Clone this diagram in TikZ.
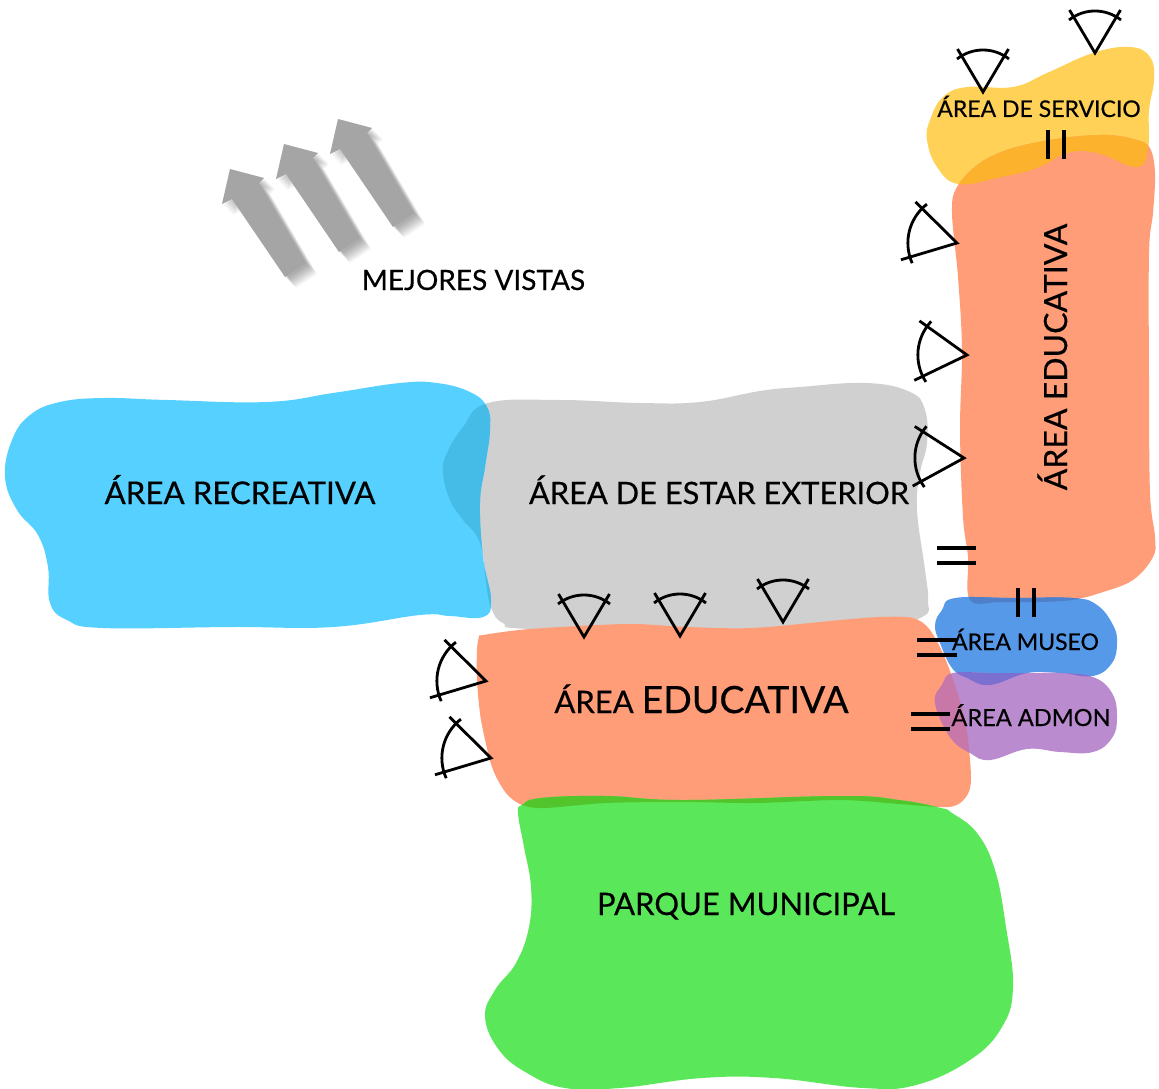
\documentclass[tikz,border=0pt]{standalone}
\usepackage{fontspec}
\setmainfont{Lato}[FakeBold=0.4]
\usepackage{tikz}

% Region colours
\definecolor{recreacolor}{HTML}{55D0FF}
\definecolor{estarcolor}{HTML}{D0D0D0}
\definecolor{educacolor}{HTML}{FF9D78}
\definecolor{parquecolor}{HTML}{5AE85A}
\definecolor{serviciocolor}{HTML}{FFD257}
\definecolor{museocolor}{HTML}{5599E8}
\definecolor{admoncolor}{HTML}{BB8BD0}

% Outlines of the regions
\newcommand{\recreapath}{plot[smooth cycle,tension=.7] coordinates {(60,402)(105,398)(167,400)(267,402)(333,393)(400,383)(437,383)(470,392)(487,407)(490,430)(485,467)(480,503)(483,557)(491,600)(483,617)(450,616)(420,615)(333,627)(233,627)(103,628)(67,620)(50,603)(48,567)(38,535)(17,510)(5,477)(12,440)(30,415)}}
\newcommand{\estarpath}{plot[smooth cycle,tension=.7] coordinates {(488,403)(560,400)(640,403)(700,402)(760,391)(800,387)(867,383)(910,392)(925,410)(927,443)(920,473)(917,510)(925,570)(928,600)(922,617)(870,628)(700,632)(530,629)(503,623)(492,610)(487,590)(480,543)(463,520)(450,500)(443,473)(447,453)(463,427)}}
\newcommand{\educapath}{plot[smooth cycle,tension=.5] coordinates {(479,637)(483,635)(530,629)(627,624)(687,627)(753,628)(840,620)(880,617)(913,618)(930,630)(947,663)(965,720)(971,777)(966,797)(949,807)(899,804)(841,800)(756,803)(684,802)(606,803)(545,808)(522,805)(506,793)(492,767)(481,720)(477,680)(477,650)}}
\newcommand{\parquepath}{plot[smooth cycle,tension=.7] coordinates {(522,805)(541,798)(606,796)(684,800)(841,796)(899,800)(941,808)(952,813)(977,833)(995,870)(1006,927)(1013,987)(1002,1027)(970,1060)(916,1085)(863,1088)(774,1078)(702,1078)(620,1088)(565,1088)(527,1073)(499,1050)(485,1017)(495,990)(516,963)(529,927)(531,887)(524,847)(518,813)}}
\newcommand{\serviciopath}{plot[smooth cycle,tension=.7] coordinates {(927,140)(930,120)(943,97)(967,87)(1013,87)(1047,73)(1093,53)(1130,47)(1150,57)(1154,80)(1149,110)(1148,148)(1137,167)(1097,153)(1067,153)(1037,168)(997,178)(958,184)(937,167)}}
\newcommand{\torrepath}{plot[smooth cycle,tension=.6] coordinates {(957,187)(980,163)(1013,148)(1063,138)(1107,135)(1137,140)(1150,148)(1155,173)(1153,213)(1149,253)(1149,380)(1150,493)(1155,537)(1153,557)(1133,580)(1100,593)(1072,600)(1040,602)(1000,602)(970,600)(968,557)(963,517)(960,430)(962,350)(958,277)(952,213)}}
\newcommand{\museopath}{plot[smooth cycle,tension=.7] coordinates {(955,598)(1013,598)(1073,598)(1097,605)(1113,625)(1117,643)(1112,663)(1093,676)(1060,673)(1027,673)(990,685)(967,678)(952,668)(940,643)(935,625)(942,610)}}
\newcommand{\admonpath}{plot[smooth cycle,tension=.7] coordinates {(953,673)(990,673)(1027,673)(1060,673)(1093,677)(1112,693)(1117,717)(1112,738)(1093,752)(1060,752)(1027,749)(990,760)(970,753)(950,737)(935,703)(942,685)}}

\tikzset{
  viewmark/.pic={
    \draw[view line] (-25.5,-43)--(0,0)--(25.5,-43);
    \draw[view line] (-26,-33) .. controls (-10.6,-45) and (10.6,-45) .. (26,-33);
  }
}

\begin{document}
\begin{tikzpicture}[x=1pt,y=-1pt]
% Styles for the marks and the labels
\tikzstyle{view line}=[draw=black,line width=2.8pt]
\tikzstyle{pair bar}=[draw=black,line width=4.5pt]
\tikzstyle{area label}=[anchor=base,inner sep=0,text=black]
\useasboundingbox (0,0) rectangle (1159,1089);
\fill[white] (0,0) rectangle (1159,1089);

% The regions, lowest first
\fill[estarcolor] \estarpath;
\fill[recreacolor] \recreapath;
\fill[serviciocolor] \serviciopath;
\fill[educacolor] \torrepath;
\fill[educacolor] \educapath;
\fill[parquecolor] \parquepath;
\fill[museocolor] \museopath;
\fill[admoncolor] \admonpath;

% Where two regions overlap
\begin{scope}
\clip \recreapath;
\fill[color={rgb,255:red,69;green,187;blue,232}] \estarpath;
\end{scope}
\begin{scope}
\clip \serviciopath;
\fill[color={rgb,255:red,253;green,178;blue,45}] \torrepath;
\end{scope}
\begin{scope}
\clip \parquepath;
\fill[color={rgb,255:red,82;green,197;blue,45}] \educapath;
\end{scope}
\begin{scope}
\clip \museopath;
\fill[color={rgb,255:red,79;green,127;blue,200}] \torrepath;
\fill[color={rgb,255:red,123;green,112;blue,208}] \admonpath;
\end{scope}
\begin{scope}
\clip \admonpath;
\fill[color={rgb,255:red,200;green,120;blue,168}] \educapath;
\end{scope}

% Best views arrows with their soft shadow
\foreach \dx/\dy in {0/0,54/-25,108/-50}{
  \foreach \off in {2,3,...,11}
    \fill[black,opacity=.035,shift={(\dx+\off,\dy+\off)}] (230,169)--(264,178)--(259,183)--(306,263)--(285,277)--(232,199)--(222,204)--cycle;
  \fill[color={rgb,255:red,165;green,165;blue,165},shift={(\dx,\dy)}] (230,169)--(264,178)--(259,183)--(306,263)--(285,277)--(232,199)--(222,204)--cycle;
}

% View marks
\foreach \px/\py/\ang/\sc in {983/92/0/1,1095/53/0/1,957/243/76/1.17,967/355/85/1.17,964/458/88/1.17,584/637/0/1,680/636/0/1,783/622/0/1,486/681/76/1.17,491/758/76/1.17}
  \pic[rotate=\ang,scale=\sc] at (\px,\py) {viewmark};

% Access marks
\draw[pair bar] (1048,130)--(1048,159);
\draw[pair bar] (1064,130)--(1064,159);
\draw[pair bar] (937,548)--(976,548);
\draw[pair bar] (937,563)--(976,563);
\draw[pair bar] (1018,588)--(1018,617);
\draw[pair bar] (1034,588)--(1034,617);
\draw[pair bar] (917,640)--(957,640);
\draw[pair bar] (917,655)--(957,655);
\draw[pair bar] (911,714)--(950,714);
\draw[pair bar] (911,729)--(950,729);

% Labels
\node(vistas)[area label,font=\fontsize{28}{28}\selectfont] at (473.5,290) {MEJORES VISTAS};
\node(recreativa)[area label,font=\fontsize{31.3}{31}\selectfont] at (240,504) {ÁREA RECREATIVA};
\node(estar)[area label,font=\fontsize{30.8}{31}\selectfont] at (719,504) {ÁREA DE ESTAR EXTERIOR};
\node(educativa)[area label,font=\fontsize{31}{31}\selectfont] at (701.5,713) {ÁREA {\fontsize{37.5}{37}\selectfont EDUCATIVA}};
\node(parque)[area label,font=\fontsize{31}{31}\selectfont] at (746,915) {PARQUE MUNICIPAL};
\node(servicio)[area label,font=\fontsize{23}{23}\selectfont] at (1039,117) {ÁREA DE SERVICIO};
\node(torre)[area label,font=\fontsize{32}{32}\selectfont,rotate=90] at (1067,357) {ÁREA EDUCATIVA};
\node(museo)[area label,font=\fontsize{23}{23}\selectfont] at (1025.5,650) {ÁREA MUSEO};
\node(admon)[area label,font=\fontsize{23.6}{23}\selectfont] at (1031,726) {ÁREA ADMON};
\end{tikzpicture}
\end{document}
